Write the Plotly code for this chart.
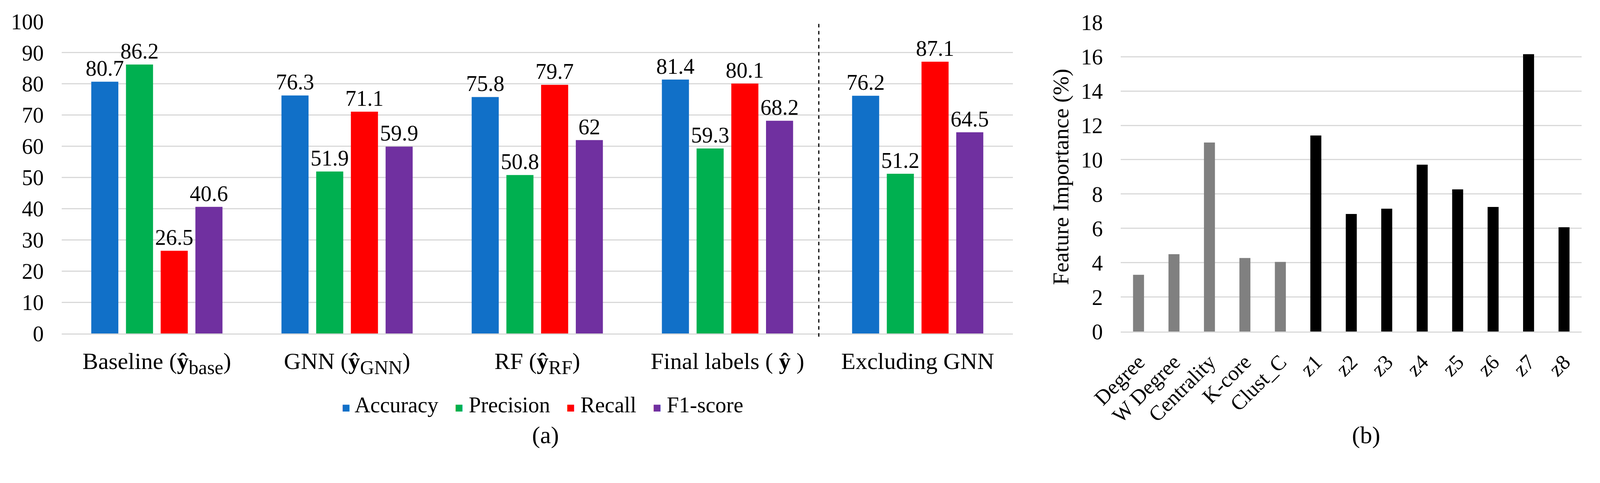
import plotly.graph_objects as go

# panel (a): classification metrics per label source
groups = [
    'Baseline (<b>ŷ</b><sub><span style="font-size:50px">base</span></sub>)',
    'GNN (<b>ŷ</b><sub><span style="font-size:50px">GNN</span></sub>)',
    'RF (<b>ŷ</b><sub><span style="font-size:50px">RF</span></sub>)',
    "Final labels ( <b>ŷ</b> )",
    "Excluding GNN",
]
accuracy = [80.7, 76.3, 75.8, 81.4, 76.2]
precision = [86.2, 51.9, 50.8, 59.3, 51.2]
recall = [26.5, 71.1, 79.7, 80.1, 87.1]
f1_score = [40.6, 59.9, 62, 68.2, 64.5]

# panel (b): feature importance (%)
features = ["Degree", "W Degree", "Centrality", "K-core", "Clust_C",
            "z1", "z2", "z3", "z4", "z5", "z6", "z7", "z8"]
importance = [3.3, 4.5, 11.0, 4.28, 4.05,
              11.41, 6.84, 7.15, 9.71, 8.27, 7.25, 16.14, 6.07]
graph_features = ["Degree", "W Degree", "Centrality", "K-core", "Clust_C"]

FONT = "Liberation Serif, Times New Roman, serif"
GRID = "#d9d9d9"

series = [
    ("Accuracy", accuracy, "#1170c8"),
    ("Precision", precision, "#00b050"),
    ("Recall", recall, "#ff0000"),
    ("F1-score", f1_score, "#7030a0"),
]

fig = go.Figure()

for name, vals, col in series:
    fig.add_trace(go.Bar(
        x=groups, y=vals, name=name, marker_color=col,
        texttemplate="%{y}", textposition="outside",
        textfont=dict(size=56, family=FONT, color="black"),
        constraintext="none", cliponaxis=False, showlegend=False,
        xaxis="x", yaxis="y",
    ))

bar_cols = ["#808080" if f in graph_features else "#000000" for f in features]
fig.add_trace(go.Bar(
    x=features, y=importance, marker_color=bar_cols, width=0.31,
    showlegend=False, xaxis="x2", yaxis="y2",
))

# legend written as one line of text so the squares can be as big as in the paper
gap = "&nbsp;" * 3
legend_txt = gap.join(
    f'<span style="color:{col};font-size:36px">■</span> {name}' for name, _, col in series
)

fig.update_layout(
    template="none",
    width=4400, height=1237, autosize=False,
    margin=dict(l=0, r=0, t=0, b=0, pad=0),
    paper_bgcolor="white", plot_bgcolor="white",
    font=dict(family=FONT, size=56, color="black"),
    barmode="group", bargap=0.27, bargroupgap=0.22,
    showlegend=False,
    xaxis=dict(domain=[0.0386, 0.633], anchor="y", showgrid=False, automargin=False,
               showline=True, linecolor=GRID, linewidth=3, ticks="",
               tickfont=dict(size=60), ticklabelstandoff=16),
    yaxis=dict(domain=[0.3096, 0.9555], anchor="x", range=[0, 100], dtick=10,
               automargin=False, ticks="",
               showgrid=True, gridcolor=GRID, gridwidth=3, zeroline=False,
               tickfont=dict(size=56), ticklabelstandoff=45),
    xaxis2=dict(domain=[0.7005, 0.9886], anchor="y2", showgrid=False, automargin=False,
                showline=True, linecolor=GRID, linewidth=3, ticks="",
                tickangle=-45, tickfont=dict(size=54), ticklabelstandoff=22),
    yaxis2=dict(domain=[0.3137, 0.9539], anchor="x2", range=[0, 18], dtick=2,
                automargin=False, ticks="",
                showgrid=True, gridcolor=GRID, gridwidth=3, zeroline=False,
                tickfont=dict(size=56), ticklabelstandoff=45,
                title=dict(text="Feature Importance (%)", font=dict(size=58),
                           standoff=12)),
    shapes=[dict(type="line", xref="x", yref="paper", x0=3.48, x1=3.48,
                 y0=0.303, y1=0.9555, line=dict(color="black", width=3, dash="dash"))],
    annotations=[
        dict(text=legend_txt, x=0.339, y=0.1617, xref="paper", yref="paper",
             xanchor="center", yanchor="middle", showarrow=False,
             font=dict(size=56)),
        dict(text="(a)", x=0.341, y=0.0695, xref="paper", yref="paper",
             showarrow=False, font=dict(size=62)),
        dict(text="(b)", x=0.863, y=0.0695, xref="paper", yref="paper",
             showarrow=False, font=dict(size=62)),
    ],
)

# the browser viewport can be narrower than 4400 px, so fit the figure to it
fit_js = (
    "var gd = document.getElementById('{plot_id}');"
    "document.body.style.margin = '0';"
    "document.body.style.overflow = 'hidden';"
    "Plotly.relayout(gd, {width: window.innerWidth, height: window.innerHeight});"
)

fig.write_html("out.html", post_script=fit_js, config={"displayModeBar": False})
